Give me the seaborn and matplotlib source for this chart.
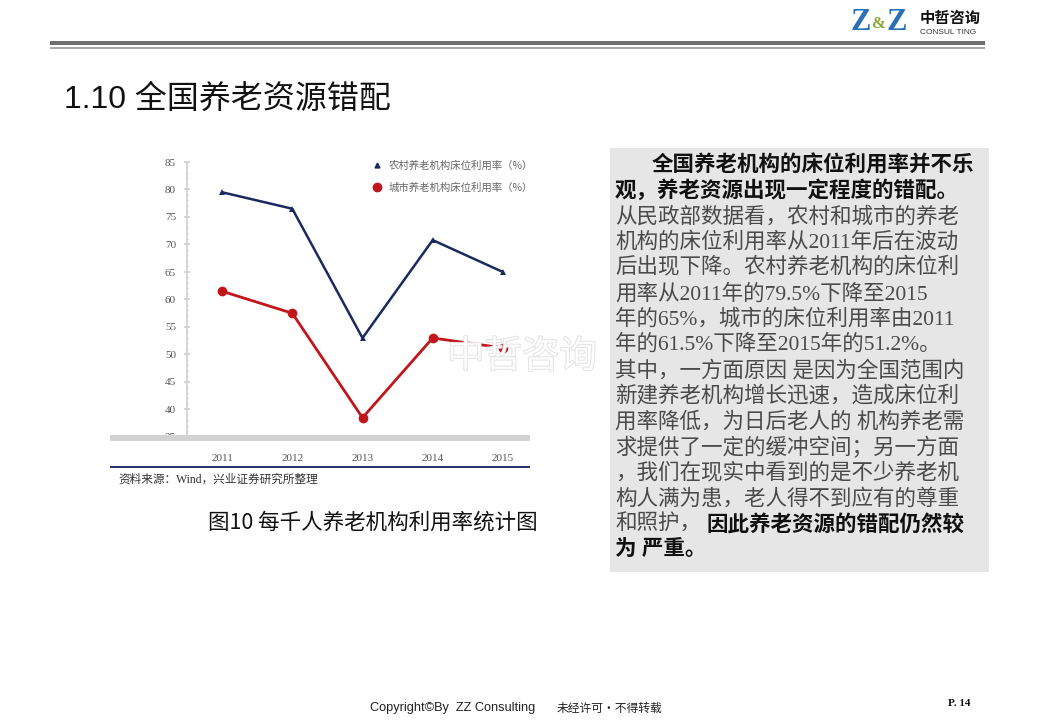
import matplotlib
matplotlib.use("Agg")
import matplotlib.pyplot as plt
import matplotlib.patheffects as pe
from matplotlib.patches import Rectangle
from matplotlib.lines import Line2D
from matplotlib.ticker import MultipleLocator
import seaborn as sns
import pandas as pd

# ---------------- data ----------------
years = ["2011", "2012", "2013", "2014", "2015"]
rural = [79.5, 76.5, 53.0, 70.8, 65.0]
urban = [61.5, 57.5, 38.5, 53.0, 51.2]
rural_label = "农村养老机构床位利用率（%）"
urban_label = "城市养老机构床位利用率（%）"
yticks = [35, 40, 45, 50, 55, 60, 65, 70, 75, 80, 85]

title = "1.10 全国养老资源错配"
source = "资料来源：Wind，兴业证券研究所整理"
caption = "图10 每千人养老机构利用率统计图"
body_lines = [
    ("全国养老机构的床位利用率并不乐", True),
    ("观，养老资源出现一定程度的错配。", True),
    ("从民政部数据看，农村和城市的养老", False),
    ("机构的床位利用率从2011年后在波动", False),
    ("后出现下降。农村养老机构的床位利", False),
    ("用率从2011年的79.5%下降至2015", False),
    ("年的65%，城市的床位利用率由2011", False),
    ("年的61.5%下降至2015年的51.2%。", False),
    ("其中，一方面原因 是因为全国范围内", False),
    ("新建养老机构增长迅速，造成床位利", False),
    ("用率降低，为日后老人的 机构养老需", False),
    ("求提供了一定的缓冲空间；另一方面", False),
    ("，我们在现实中看到的是不少养老机", False),
    ("构人满为患，老人得不到应有的尊重", False),
    ("和照护，", False),
    ("为 严重。", True),
]
line15_bold = "因此养老资源的错配仍然较"

sns.set_theme(style="white")
FAM = ["Liberation Serif", "Noto Sans CJK SC", "DejaVu Sans"]
SANS = ["Liberation Sans", "Noto Sans CJK SC", "DejaVu Sans"]
plt.rcParams["font.family"] = FAM

W, H = 1040, 720
fig = plt.figure(figsize=(W / 100, H / 100), dpi=100)
fig.patch.set_facecolor("white")


def rect(x, y, w, h, color, z=0, alpha=1.0):
    fig.patches.append(Rectangle((x / W, 1 - (y + h) / H), w / W, h / H,
                                 transform=fig.transFigure, facecolor=color,
                                 edgecolor="none", zorder=z, alpha=alpha))


def txt(x, y, s, **kw):
    return fig.text(x / W, 1 - y / H, s, **kw)


# header lines
rect(50, 41, 935, 4, "#6e6e6e")
rect(50, 47, 935, 2, "#a8a8a8")

# logo
txt(850, 22, "Z", fontsize=22, color="#2b6fb5", fontweight="bold",
    family=["Liberation Serif"], va="center", ha="left")
txt(872, 24, "&", fontsize=12, color="#8aa83a", fontweight="bold",
    family=["Liberation Serif"], va="center", ha="left")
txt(887, 22, "Z", fontsize=22, color="#2b6fb5", fontweight="bold",
    family=["Liberation Serif"], va="center", ha="left")
txt(920, 18, "中哲咨询", fontsize=11, color="#111111", fontweight="bold",
    family=["Noto Sans CJK SC"], va="center", ha="left")
txt(920, 32, "CONSUL TING", fontsize=6, color="#333333",
    family=["Liberation Sans"], va="center", ha="left")

# title
txt(64, 100, title, fontsize=23, color="#111111", family=SANS,
    va="center", ha="left")

# ---------------- chart ----------------
ax = fig.add_axes([187 / W, 1 - 437 / H, 351 / W, 275 / H])
xpos = list(range(len(years)))
df_r = pd.DataFrame({"x": xpos, "y": rural})
df_u = pd.DataFrame({"x": xpos, "y": urban})
navy = "#1b2a5e"
red = "#c0161c"
sns.lineplot(data=df_r, x="x", y="y", ax=ax, color=navy, linewidth=1.8,
             marker="^", markersize=4, markeredgewidth=0)
sns.lineplot(data=df_u, x="x", y="y", ax=ax, color=red, linewidth=2.0,
             marker="o", markersize=7, markeredgewidth=0)
ax.set_xlim(-0.5, 4.5)
ax.set_ylim(35, 85)
ax.set_yticks(yticks)
ax.set_yticklabels([str(v) for v in yticks])
ax.yaxis.set_minor_locator(MultipleLocator(1))
ax.set_xticks(xpos)
ax.set_xticklabels(years)
ax.set_xlabel("")
ax.set_ylabel("")
for s in ["top", "right", "bottom"]:
    ax.spines[s].set_visible(False)
ax.spines["left"].set_color("#cfcfcf")
ax.spines["left"].set_linewidth(1.2)
ax.tick_params(axis="y", which="major", direction="inout", length=4,
               color="#cfcfcf", labelsize=8, labelcolor="#555555", pad=6, left=True)
ax.tick_params(axis="y", which="minor", direction="inout", length=2,
               color="#d8d8d8", left=True)
ax.tick_params(axis="x", length=0, labelsize=8, labelcolor="#555555", pad=12)
ax.grid(False)
ax.set_facecolor("white")

handles = [
    Line2D([], [], color=navy, marker="^", linestyle="none", markersize=3.5),
    Line2D([], [], color=red, marker="o", linestyle="none", markersize=6),
]
leg = ax.legend(handles, [rural_label, urban_label], loc="upper left",
                bbox_to_anchor=(0.5, 1.04), frameon=False,
                handlelength=1.0, handletextpad=0.6, labelspacing=1.1,
                labelcolor="#666666", prop={"family": ["Noto Sans CJK SC"], "size": 7.5})

# bottom gray band, source line and text
rect(110, 435, 420, 6, "#d2d2d2", z=5)
rect(110, 466, 420, 1.5, "#2a3470", z=5)
txt(118, 480, source, fontsize=8.4, color="#333333", family=FAM,
    va="center", ha="left")
txt(373, 523, caption, fontsize=15.5, color="#111111",
    family=["Noto Sans CJK SC", "Liberation Sans"], va="center", ha="center")

# ---------------- text box ----------------
rect(610, 148, 379, 424, "#e6e6e6")
ys = [166, 191, 217, 242, 268, 294, 319, 345, 371, 396, 422, 448, 473, 499, 525, 550]
for i, ((s, bold), y) in enumerate(zip(body_lines, ys)):
    x0 = 652 if i == 0 else 615
    txt(x0, y, s, fontsize=15.5, color="#111111" if bold else "#4a4a4a",
        fontweight="bold" if bold else "normal", family=FAM,
        va="center", ha="left")
txt(706, ys[14], line15_bold, fontsize=15.5, color="#111111", fontweight="bold",
    family=FAM, va="center", ha="left")

# watermark
wm = txt(522, 357, "中哲咨询", fontsize=27, color="white", alpha=0.85,
         family=["Noto Sans CJK SC"], va="center", ha="center", zorder=10)
wm.set_path_effects([pe.withStroke(linewidth=1.2, foreground="#dcdcdc")])

# footer
txt(370, 708, "Copyright©By  ZZ Consulting", fontsize=9.2, color="#222222",
    family=SANS, va="center", ha="left")
txt(557, 708, "未经许可·不得转载", fontsize=8.5, color="#222222",
    family=["Noto Sans CJK SC"], va="center", ha="left")
txt(948, 703, "P. 14", fontsize=8, color="#111111", fontweight="bold",
    family=["Liberation Serif"], va="center", ha="left")

fig.savefig("out.png", dpi=100)
